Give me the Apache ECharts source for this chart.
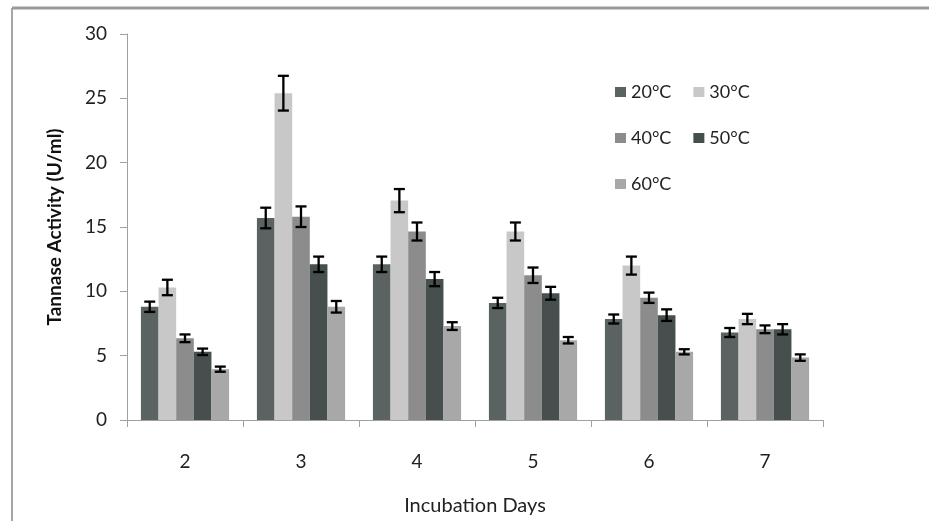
<!DOCTYPE html>
<html>
<head>
<meta charset="utf-8">
<script src="https://cdn.jsdelivr.net/npm/echarts@6/dist/echarts.min.js"></script>
<style>
html,body{margin:0;padding:0;background:#fff;}
#chart{width:929px;height:521px;}
</style>
</head>
<body>
<div id="chart"></div>
<script>
var days = ['2', '3', '4', '5', '6', '7'];
var seriesNames = ['20°C', '30°C', '40°C', '50°C', '60°C'];
var t20 = [8.8, 15.7, 12.1, 9.1, 7.85, 6.8];
var t30 = [10.3, 25.4, 17.05, 14.65, 12.0, 7.85];
var t40 = [6.35, 15.8, 14.65, 11.25, 9.5, 7.05];
var t50 = [5.3, 12.1, 10.95, 9.85, 8.15, 7.05];
var t60 = [3.95, 8.8, 7.3, 6.2, 5.3, 4.85];
var e20 = [0.4, 0.8, 0.6, 0.4, 0.35, 0.35];
var e30 = [0.6, 1.35, 0.9, 0.7, 0.7, 0.4];
var e40 = [0.3, 0.8, 0.7, 0.6, 0.4, 0.3];
var e50 = [0.25, 0.6, 0.55, 0.5, 0.45, 0.4];
var e60 = [0.2, 0.45, 0.3, 0.25, 0.2, 0.25];
var yTicks = [0, 5, 10, 15, 20, 25, 30];

var means = [t20, t30, t40, t50, t60];
var errs = [e20, e30, e40, e50, e60];
var colors = ['#5a6361', '#c8c8c8', '#8c8c8c', '#464e4e', '#a8a8a8'];
var FONT = 'Lato';
var catGap = 0.24;

var chart = echarts.init(document.getElementById('chart'));

var series = [];
means.forEach(function (vals, si) {
  series.push({
    name: seriesNames[si],
    type: 'bar',
    data: vals,
    barGap: '0%',
    barCategoryGap: '24%',
    itemStyle: { color: colors[si] },
    emphasis: { disabled: true }
  });
});
means.forEach(function (vals, si) {
  var data = vals.map(function (v, i) { return [i, v - errs[si][i], v + errs[si][i]]; });
  series.push({
    type: 'custom',
    name: 'err' + si,
    data: data,
    z: 10,
    renderItem: function (params, api) {
      var idx = api.value(0);
      var lo = api.coord([idx, api.value(1)]);
      var hi = api.coord([idx, api.value(2)]);
      var band = api.size([1, 0])[0];
      var bw = band * (1 - catGap) / 5;
      var x = lo[0] + (si - 2) * bw;
      var cap = 5.5;
      var st = { stroke: '#000', lineWidth: 2.3 };
      return {
        type: 'group',
        children: [
          { type: 'line', shape: { x1: x, y1: lo[1], x2: x, y2: hi[1] }, style: st },
          { type: 'line', shape: { x1: x - cap, y1: lo[1], x2: x + cap, y2: lo[1] }, style: st },
          { type: 'line', shape: { x1: x - cap, y1: hi[1], x2: x + cap, y2: hi[1] }, style: st }
        ]
      };
    }
  });
});

function legendRow(names, top) {
  return {
    data: names,
    left: 615,
    top: top,
    orient: 'horizontal',
    padding: 0,
    itemWidth: 11,
    itemHeight: 10,
    itemGap: 22,
    icon: 'rect',
    selectedMode: false,
    textStyle: { fontFamily: FONT, fontSize: 18, color: '#222' }
  };
}

var option = {
  animation: false,
  backgroundColor: '#fff',
  color: colors,
  graphic: [{
    type: 'line',
    shape: { x1: 12, y1: 8, x2: 12, y2: 521 },
    style: { stroke: '#a6a6a6', lineWidth: 2 },
    silent: true
  }, {
    type: 'line',
    shape: { x1: 12, y1: 8, x2: 929, y2: 8 },
    style: { stroke: '#9a9a9a', lineWidth: 3 },
    silent: true
  }],
  legend: [
    legendRow(['20°C', '30°C'], 83),
    legendRow(['40°C', '50°C'], 129),
    legendRow(['60°C'], 175)
  ],
  grid: { left: 127, right: 106, top: 34, bottom: 101, containLabel: false },
  xAxis: {
    type: 'category',
    data: days,
    name: 'Incubation Days',
    nameLocation: 'middle',
    nameGap: 76,
    nameTextStyle: { fontFamily: FONT, fontSize: 20, color: '#222' },
    axisLine: { lineStyle: { color: '#a0a0a0', width: 1 } },
    axisTick: { show: true, length: 7, lineStyle: { color: '#a0a0a0' } },
    axisLabel: { fontFamily: FONT, fontSize: 19, color: '#222', margin: 32 }
  },
  yAxis: {
    type: 'value',
    min: yTicks[0],
    max: yTicks[yTicks.length - 1],
    interval: 5,
    name: 'Tannase Activity (U/ml)',
    nameLocation: 'middle',
    nameGap: 63,
    nameTextStyle: { fontFamily: FONT, fontSize: 19, fontWeight: 'bold', color: '#111' },
    axisLine: { show: true, lineStyle: { color: '#a0a0a0', width: 1 } },
    axisTick: { show: true, length: 7, lineStyle: { color: '#a0a0a0' } },
    splitLine: { show: false },
    axisLabel: { fontFamily: FONT, fontSize: 19, color: '#222', margin: 20 }
  },
  series: series
};
chart.setOption(option);
</script>
</body>
</html>
